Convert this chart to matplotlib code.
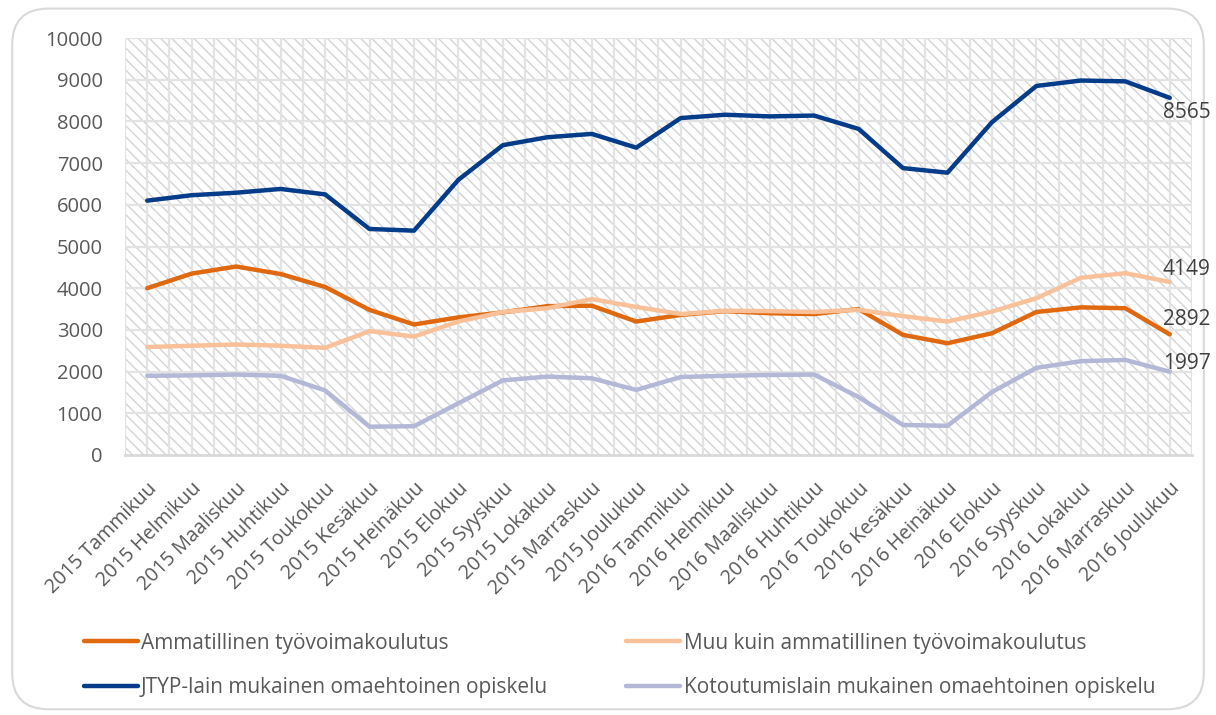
import matplotlib
matplotlib.use("Agg")
import matplotlib.pyplot as plt
from matplotlib.patches import Rectangle, FancyBboxPatch
from matplotlib.lines import Line2D
from matplotlib.transforms import ScaledTranslation

plt.rcParams['font.family'] = ['Open Sans', 'DejaVu Sans']
plt.rcParams['hatch.linewidth'] = 1.0
plt.rcParams['hatch.color'] = '#d4d4d4'

months = ["Tammikuu", "Helmikuu", "Maaliskuu", "Huhtikuu", "Toukokuu", "Kesäkuu",
          "Heinäkuu", "Elokuu", "Syyskuu", "Lokakuu", "Marraskuu", "Joulukuu"]
categories = [f"{y} {m}" for y in (2015, 2016) for m in months]

ammatillinen = [4000, 4350, 4520, 4340, 4030, 3480, 3130, 3300, 3420, 3570, 3580, 3200,
                3360, 3450, 3400, 3380, 3500, 2880, 2680, 2920, 3430, 3540, 3520, 2892]
muu = [2590, 2620, 2650, 2620, 2570, 2970, 2840, 3200, 3430, 3520, 3740, 3550,
       3380, 3460, 3450, 3430, 3480, 3330, 3200, 3440, 3760, 4250, 4360, 4149]
jtyp = [6100, 6230, 6290, 6380, 6250, 5420, 5380, 6600, 7430, 7620, 7700, 7370,
        8080, 8160, 8120, 8140, 7820, 6880, 6770, 7980, 8850, 8980, 8960, 8565]
kotoutumis = [1900, 1910, 1930, 1900, 1550, 680, 690, 1240, 1790, 1880, 1840, 1560,
              1870, 1900, 1920, 1930, 1390, 720, 700, 1510, 2090, 2250, 2280, 1997]

series = [
    ("Ammatillinen työvoimakoulutus", ammatillinen, "#e0690f"),
    ("Muu kuin ammatillinen työvoimakoulutus", muu, "#f9c199"),
    ("JTYP-lain mukainen omaehtoinen opiskelu", jtyp, "#053c8a"),
    ("Kotoutumislain mukainen omaehtoinen opiskelu", kotoutumis, "#b2b8d6"),
]

text_color = "#595959"

fig = plt.figure(figsize=(12.16, 7.15), dpi=100)
fig.patches.append(FancyBboxPatch((0.010, 0.008), 0.980, 0.980,
                                  boxstyle="round,pad=0,rounding_size=0.03",
                                  transform=fig.transFigure, facecolor="white",
                                  edgecolor="#d9d9d9", linewidth=1.5, zorder=-10,
                                  mutation_aspect=1216 / 715))

ax = fig.add_axes([125 / 1216, 1 - 455 / 715, (1192 - 125) / 1216, (455 - 38) / 715])
ax.set_facecolor("white")
x = list(range(len(categories)))

ax.add_patch(Rectangle((0, 0), 1, 1, transform=ax.transAxes, facecolor="white",
                       edgecolor="#d4d4d4", hatch="\\\\\\", linewidth=0, zorder=0))

ax.set_xlim(-0.5, len(categories) - 0.5)
ax.set_ylim(0, 10000)
ax.set_yticks(range(0, 10001, 1000))
for yv in range(1000, 10001, 1000):
    ax.axhline(yv, color="#e3e3e3", lw=1.6, zorder=1)
for k in range(2 * len(categories) + 1):
    ax.axvline(-0.5 + 0.5 * k, color="#e3e3e3", lw=1.6, zorder=1)

for name, vals, col in series:
    ax.plot(x, vals, color=col, lw=3.2, solid_capstyle="round", solid_joinstyle="round",
            zorder=3, label=name)

ax.set_xticks(x)
ax.set_xticklabels(categories, rotation=45, ha="right", rotation_mode="anchor",
                   fontsize=14.2, color=text_color)
shift = ScaledTranslation(3 / 100, 0, fig.dpi_scale_trans)
for lbl in ax.get_xticklabels():
    lbl.set_transform(lbl.get_transform() + shift)
ax.tick_params(axis="x", length=0, pad=17)
ax.tick_params(axis="y", length=0, pad=16, labelsize=14.5, labelcolor=text_color)
for s in ("left", "right", "top"):
    ax.spines[s].set_visible(False)
ax.spines["bottom"].set_color("#d9d9d9")
ax.spines["bottom"].set_linewidth(2)
ax.spines["bottom"].set_zorder(4)

# end labels
last = len(categories) - 1
end_labels = [(jtyp[-1], -15), (muu[-1], 12), (ammatillinen[-1], 15), (kotoutumis[-1], 8)]
for val, dy in end_labels:
    t = ax.annotate(f"{val}", (last, val), xytext=(-7, dy), textcoords="offset pixels",
                    ha="left", va="center", fontsize=15, color="#404040", zorder=5,
                    annotation_clip=False)
    t.set_clip_on(False)

order = [0, 2, 1, 3]
handles = [Line2D([0], [0], color=series[i][2], lw=3.2, solid_capstyle="round") for i in order]
labels = [series[i][0] for i in order]
fig.legend(handles, labels, ncol=2, loc="upper left", bbox_to_anchor=(65 / 1216, 1 - 614 / 715),
           frameon=False, fontsize=15, labelcolor=text_color, handlelength=2.6,
           handletextpad=0.15, columnspacing=3.75, labelspacing=1.12)

fig.savefig("out.png", dpi=100)
